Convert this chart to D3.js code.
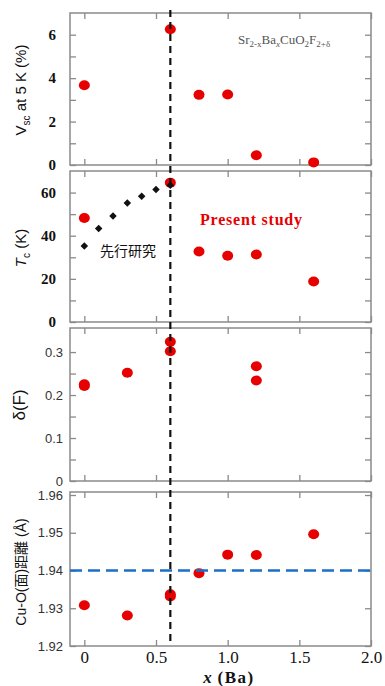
<!DOCTYPE html>
<html>
<head>
<meta charset="utf-8">
<script src="https://cdn.jsdelivr.net/npm/d3@7"></script>
<style>
  body { margin: 0; background: #fff; }
</style>
</head>
<body>
<svg id="chart" width="385" height="686"></svg>
<script>
// values
const xBa = [0, 0.6, 0.8, 1.0, 1.2, 1.6];
const vsc = [3.67, 6.25, 3.23, 3.25, 0.45, 0.12];
const tcPresent = [48.2, 64.6, 32.7, 30.7, 31.3, 18.8];
const xPrev = [0, 0.1, 0.2, 0.3, 0.4, 0.5, 0.6];
const tcPrev = [35.2, 43.3, 49.1, 55.2, 58.3, 61.4, 63.4];
const xDelta = [0, 0, 0.3, 0.6, 0.6, 1.2, 1.2];
const deltaF = [0.225, 0.221, 0.252, 0.324, 0.302, 0.267, 0.234];
const xCuO = [0, 0.3, 0.6, 0.6, 0.8, 1.0, 1.2, 1.6];
const cuO = [1.9308, 1.9281, 1.9337, 1.9331, 1.9393, 1.9442, 1.9441, 1.9496];

const xTicks = [0, 0.5, 1.0, 1.5, 2.0];
const xTickLabels = ["0", "0.5", "1.0", "1.5", "2.0"];
const vscTicks = [0, 1, 2, 3, 4, 5, 6];
const vscLabels = ["0", "", "2", "", "4", "", "6"];
const tcTicks = [0, 10, 20, 30, 40, 50, 60];
const tcLabels = ["0", "", "20", "", "40", "", "60"];
const deltaTicks = [0, 0.05, 0.1, 0.15, 0.2, 0.25, 0.3];
const deltaLabels = ["0", "", "0.1", "", "0.2", "", "0.3"];
const cuOTicks = [1.92, 1.93, 1.94, 1.95, 1.96];
const cuOLabels = ["1.92", "1.93", "1.94", "1.95", "1.96"];
const criticalX = 0.6;
const refCuO = 1.94;

const svg = d3.select("#chart");
const left = 70, right = 371;
const red = "#e60000";
const frameColor = "#8a8a8a";
const serif = "'Liberation Serif', 'DejaVu Serif', serif";
const sans = "'Liberation Sans', Arial, 'Noto Sans CJK JP', sans-serif";

const x = d3.scaleLinear().domain([-0.1, 2.0]).range([left, right]);

function panel(top, bottom, domain, ticks, labels, font) {
  const y = d3.scaleLinear().domain(domain).range([bottom, top]);
  const g = svg.append("g");

  g.append("rect")
    .attr("x", left).attr("y", top)
    .attr("width", right - left).attr("height", bottom - top)
    .attr("fill", "none").attr("stroke", frameColor).attr("stroke-width", 1.5);

  // left y axis, ticks pointing inward
  const ya = g.append("g")
    .attr("transform", "translate(" + left + ",0)")
    .call(d3.axisLeft(y).tickValues(ticks).tickSizeInner(-6).tickSizeOuter(0)
      .tickPadding(font.pad).tickFormat((d, i) => labels[i]));
  ya.select(".domain").remove();
  ya.selectAll("line").attr("stroke", frameColor).attr("stroke-width", 1.3);
  ya.selectAll("text")
    .attr("font-family", font.family).attr("font-size", font.size)
    .attr("font-weight", font.weight).attr("fill", font.color);

  // right y axis, no labels
  const yr = g.append("g")
    .attr("transform", "translate(" + right + ",0)")
    .call(d3.axisRight(y).tickValues(ticks).tickSizeInner(-6).tickSizeOuter(0).tickFormat(""));
  yr.select(".domain").remove();
  yr.selectAll("line").attr("stroke", frameColor).attr("stroke-width", 1.3);

  // inward x ticks at top and bottom
  [[top, d3.axisTop], [bottom, d3.axisBottom]].forEach(([pos, ax]) => {
    const a = g.append("g")
      .attr("transform", "translate(0," + pos + ")")
      .call(ax(x).tickValues(xTicks).tickSizeInner(-6).tickSizeOuter(0).tickFormat(""));
    a.select(".domain").remove();
    a.selectAll("line").attr("stroke", frameColor).attr("stroke-width", 1.3);
  });

  return { g, y };
}

const boldSerif = { family: serif, size: 15, weight: "bold", color: "#111", pad: 14 };
const plainSans = { family: sans, size: 13, weight: "normal", color: "#333", pad: 7 };

const p1 = panel(13, 165, [0, 7], vscTicks, vscLabels, boldSerif);
const p2 = panel(171, 322, [0, 70], tcTicks, tcLabels, boldSerif);
const p3 = panel(328, 481, [0, 0.356], deltaTicks, deltaLabels, plainSans);
const p4 = panel(492, 646, [1.92, 1.9608], cuOTicks, cuOLabels, plainSans);

// x axis labels under the last panel
svg.append("g")
  .attr("transform", "translate(0,646)")
  .call(d3.axisBottom(x).tickValues(xTicks).tickSize(0).tickPadding(5)
    .tickFormat((d, i) => xTickLabels[i]))
  .call(a => a.select(".domain").remove())
  .selectAll("text")
  .attr("font-family", serif).attr("font-size", 17).attr("fill", "#111");

const xl = svg.append("text")
  .attr("x", 229).attr("y", 683)
  .attr("text-anchor", "middle")
  .attr("font-family", serif).attr("font-size", 17).attr("font-weight", "bold").attr("fill", "#111");
xl.append("tspan").attr("font-style", "italic").text("x");
xl.append("tspan").attr("letter-spacing", 1.5).text(" (Ba)");

// reference line Cu-O 1.94
svg.append("line")
  .attr("x1", left).attr("x2", right)
  .attr("y1", p4.y(refCuO)).attr("y2", p4.y(refCuO))
  .attr("stroke", "#1c6fc4").attr("stroke-width", 2.5).attr("stroke-dasharray", "12,6");

// vertical dashed line through all panels
svg.append("line")
  .attr("x1", x(criticalX)).attr("x2", x(criticalX))
  .attr("y1", 10).attr("y2", 646)
  .attr("stroke", "#111").attr("stroke-width", 2.2).attr("stroke-dasharray", "7,5");

function dots(p, xs, ys) {
  p.g.selectAll(null)
    .data(xs.map((v, i) => [v, ys[i]]))
    .enter().append("ellipse")
    .attr("cx", d => x(d[0])).attr("cy", d => p.y(d[1]))
    .attr("rx", 5.5).attr("ry", 5)
    .attr("fill", red);
}

dots(p1, xBa, vsc);
dots(p2, xBa, tcPresent);
dots(p3, xDelta, deltaF);
dots(p4, xCuO, cuO);

// previous study diamonds
p2.g.selectAll(null)
  .data(xPrev.map((v, i) => [v, tcPrev[i]]))
  .enter().append("path")
  .attr("d", d3.symbol().type(d3.symbolDiamond2).size(36))
  .attr("transform", d => "translate(" + x(d[0]) + "," + p2.y(d[1]) + ")")
  .attr("fill", "#111");

// annotations
const formula = svg.append("text")
  .attr("x", 238).attr("y", 44)
  .attr("font-family", serif).attr("font-size", 13).attr("fill", "#555");
[["Sr", 0], ["2-x", 1], ["Ba", 0], ["x", 1], ["CuO", 0], ["2", 1], ["F", 0], ["2+δ", 1]]
  .forEach(([t, sub], i, arr) => {
    const prevSub = i > 0 ? arr[i - 1][1] : 0;
    formula.append("tspan")
      .attr("dy", sub && !prevSub ? 3 : (!sub && prevSub ? -3 : 0))
      .attr("font-size", sub ? 9 : 13)
      .attr("font-style", t === "x" ? "italic" : null)
      .text(t);
  });

svg.append("text")
  .attr("x", 200).attr("y", 225)
  .attr("font-family", serif).attr("font-size", 16).attr("font-weight", "bold")
  .attr("textLength", 102).attr("lengthAdjust", "spacing")
  .attr("fill", red).text("Present study");

svg.append("text")
  .attr("x", 100).attr("y", 256)
  .attr("font-family", "'Noto Sans CJK JP', sans-serif").attr("font-size", 14)
  .attr("fill", "#111").text("先行研究");

// y axis titles
function yTitle(cx, cy, size) {
  return svg.append("text")
    .attr("transform", "translate(" + cx + "," + cy + ") rotate(-90)")
    .attr("text-anchor", "middle")
    .attr("font-family", sans).attr("font-size", size).attr("fill", "#111");
}

const t1 = yTitle(26, 90, 15);
t1.append("tspan").text("V");
t1.append("tspan").attr("dy", 4).attr("font-size", 10).text("sc");
t1.append("tspan").attr("dy", -4).text(" at 5 K (%)");

const t2 = yTitle(26, 248, 15);
t2.append("tspan").attr("font-style", "italic").text("T");
t2.append("tspan").attr("dy", 4).attr("font-size", 10).text("c");
t2.append("tspan").attr("dy", -4).text(" (K)");

yTitle(25, 405, 17).text("δ(F)");

yTitle(26, 572, 14)
  .attr("font-family", "'Liberation Sans', 'Noto Sans CJK JP', sans-serif")
  .text("Cu-O(面)距離 (Å)");
</script>
</body>
</html>
